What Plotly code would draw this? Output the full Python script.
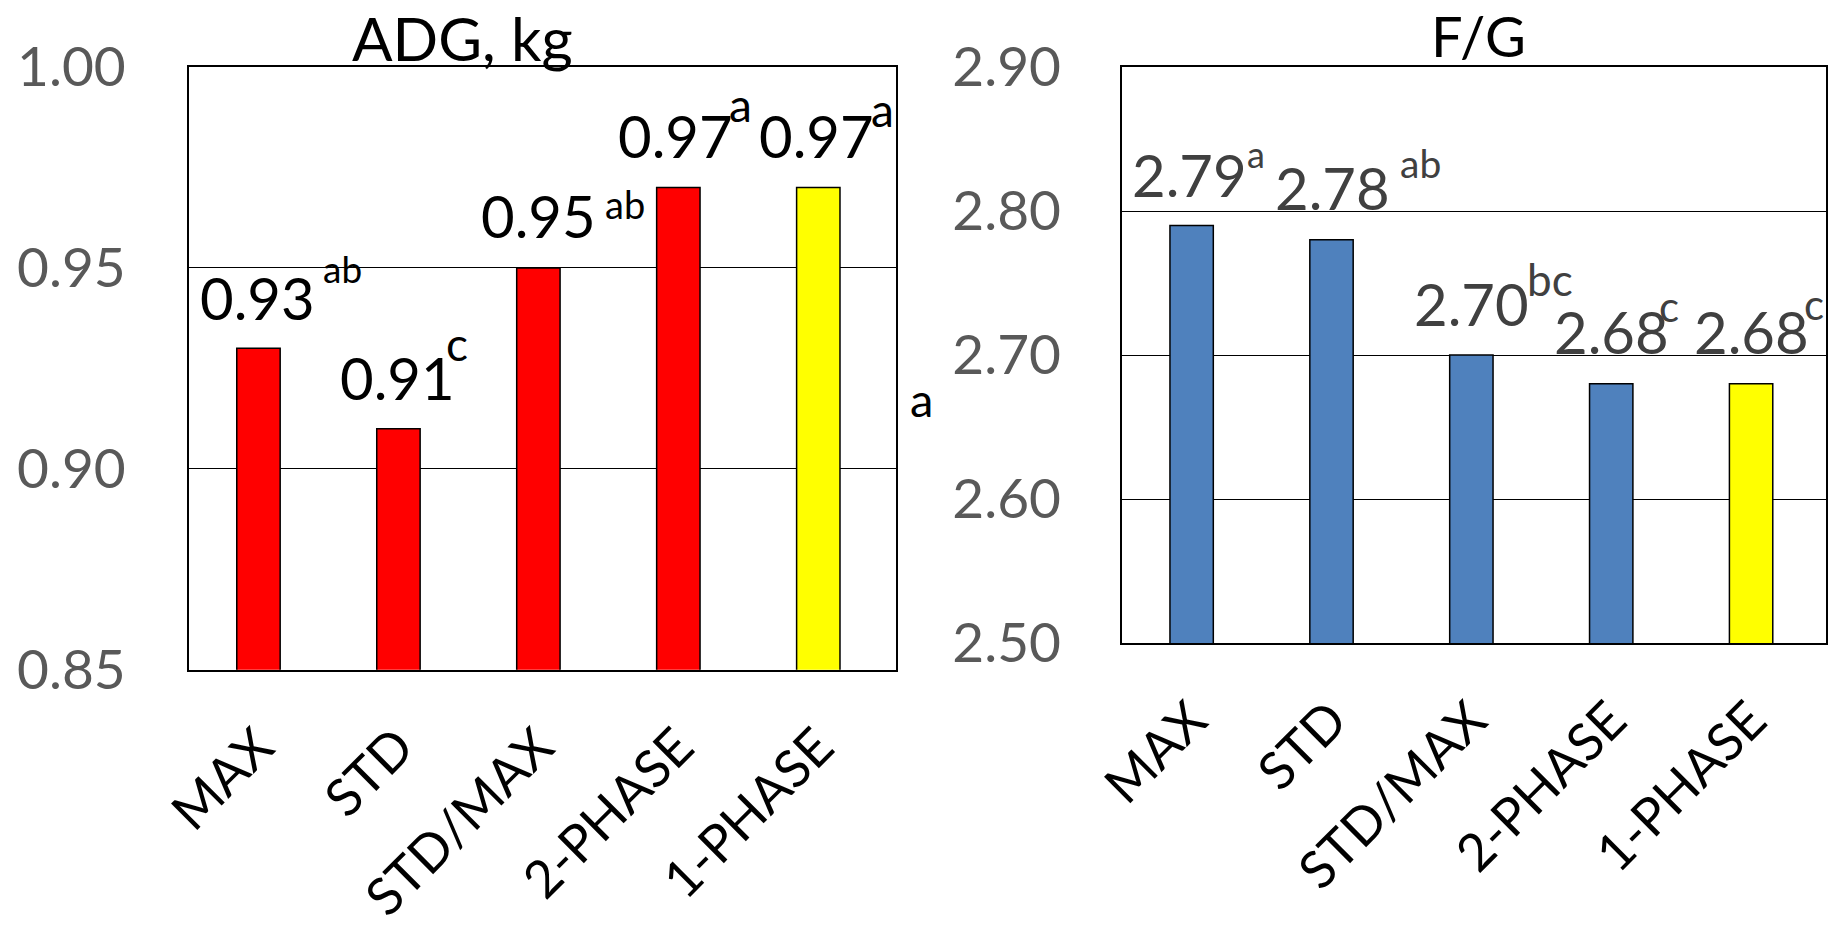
import plotly.graph_objects as go

# ---- data -------------------------------------------------------------
categories = ["MAX", "STD", "STD/MAX", "2-PHASE", "1-PHASE"]

adg_values = [0.93, 0.91, 0.95, 0.97, 0.97]
adg_letters = ["ab", "c", "ab", "a", "a"]

fg_values = [2.79, 2.78, 2.70, 2.68, 2.68]
fg_letters = ["a", "ab", "bc", "c", "c"]

adg_ticks = [0.85, 0.90, 0.95, 1.00]
fg_ticks = [2.50, 2.60, 2.70, 2.80, 2.90]

# ---- styling ----------------------------------------------------------
FONT = "Lato"
RED, YELLOW, BLUE = "#FF0000", "#FFFF00", "#4F81BD"
adg_colors = [RED, RED, RED, RED, YELLOW]
fg_colors = [BLUE, BLUE, BLUE, BLUE, YELLOW]

# value label offsets from the bar top (px): (xshift, yshift)
adg_value_off = [(-1.4, 50.7), (-0.7, 51.0), (-0.2, 52.2), (-2.6, 51.7), (-1.5, 51.7)]
fg_value_off = [(-2.1, 51.0), (0.7, 52.1), (0.4, 51.9), (0.1, 52.6), (-0.1, 52.6)]
# significance letter offsets from the bar top (px): (xshift, yshift, font size)
adg_letter_off = [(83.6, 80.1, 37), (58.7, 85.4, 46), (86.3, 63.6, 38), (61.9, 83.1, 46), (64.0, 78.1, 46)]
fg_letter_off = [(63.9, 71.1, 36), (88.7, 77.0, 39), (78.9, 76.5, 44), (58.1, 77.5, 42), (62.4, 79.5, 42)]

W, H = 1836, 928

fig = go.Figure()
fig.add_trace(go.Bar(
    x=categories, y=adg_values, width=0.31,
    marker=dict(color=adg_colors, line=dict(color="black", width=1.5)),
    xaxis="x", yaxis="y", hoverinfo="x+y",
))
fig.add_trace(go.Bar(
    x=categories, y=fg_values, width=0.31,
    marker=dict(color=fg_colors, line=dict(color="black", width=1.5)),
    xaxis="x2", yaxis="y2", hoverinfo="x+y",
))

frame = dict(showline=True, mirror=True, linecolor="black", linewidth=1.5, automargin=False)

x_common = dict(
    tickangle=-45, ticks="", ticklabelstandoff=24,
    tickfont=dict(family=FONT, size=52, color="black"),
    showgrid=False, fixedrange=True, **frame,
)
y_common = dict(
    ticks="", tickformat=".2f",
    tickfont=dict(family=FONT, size=55, color="#595959"),
    showgrid=True, gridcolor="black", gridwidth=1.3, zeroline=False,
    fixedrange=True, **frame,
)

fig.update_layout(
    width=W, height=H,
    margin=dict(l=0, r=0, t=0, b=0, autoexpand=False),
    paper_bgcolor="white", plot_bgcolor="white",
    showlegend=False, bargap=0.69,
    xaxis=dict(domain=[188.5 / W, 895.8 / W], anchor="y", **x_common),
    yaxis=dict(domain=[1 - 669.8 / H, 1 - 67.0 / H], anchor="x", ticklabelstandoff=50,
               range=[adg_ticks[0], adg_ticks[-1]], tickvals=adg_ticks, **y_common),
    xaxis2=dict(domain=[1121.7 / W, 1825.5 / W], anchor="y2", **x_common),
    yaxis2=dict(domain=[1 - 643.0 / H, 1 - 67.0 / H], anchor="x2", ticklabelstandoff=48,
                range=[fg_ticks[0], fg_ticks[-1]], tickvals=fg_ticks, **y_common),
)

annotations = []


def add_labels(values, letters, value_off, letter_off, xref, yref, color):
    for cat, v, let, (vx, vy), (lx, ly, ls) in zip(categories, values, letters, value_off, letter_off):
        annotations.append(dict(
            x=cat, y=v, xref=xref, yref=yref, text=f"{v:.2f}", showarrow=False,
            xanchor="center", yanchor="middle", xshift=vx, yshift=vy,
            font=dict(family=FONT, size=58, color=color),
        ))
        annotations.append(dict(
            x=cat, y=v, xref=xref, yref=yref, text=let, showarrow=False,
            xanchor="center", yanchor="middle", xshift=lx, yshift=ly,
            font=dict(family=FONT, size=ls, color=color),
        ))


add_labels(adg_values, adg_letters, adg_value_off, adg_letter_off, "x", "y", "black")
add_labels(fg_values, fg_letters, fg_value_off, fg_letter_off, "x2", "y2", "#404040")

# panel titles
annotations.append(dict(x=463 / W, y=1.0, xref="paper", yref="paper", text="ADG, kg",
                        showarrow=False, xanchor="center", yanchor="top",
                        font=dict(family=FONT, size=60, color="black")))
annotations.append(dict(x=1478 / W, y=1.0, xref="paper", yref="paper", text="F/G",
                        showarrow=False, xanchor="center", yanchor="top",
                        font=dict(family=FONT, size=56, color="black")))
# loose letter between the panels
annotations.append(dict(x=921.5 / W, y=1 - 398.8 / H, xref="paper", yref="paper", text="a",
                        showarrow=False, xanchor="center", yanchor="middle",
                        font=dict(family=FONT, size=47, color="black")))

fig.update_layout(annotations=annotations)

fig.write_html("out.html")
